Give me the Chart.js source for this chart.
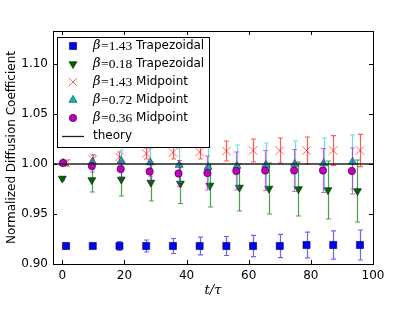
<!DOCTYPE html>
<html>
<head>
<meta charset="utf-8">
<script src="https://cdn.jsdelivr.net/npm/chart.js@4.4.0/dist/chart.umd.min.js"></script>
<style>
html, body { margin: 0; padding: 0; background: #fff; }
</style>
</head>
<body>
<canvas id="chart" width="415" height="312"></canvas>
<script>
// x positions (t/tau) of each series
var tTrap143 = [1.2, 9.8, 18.4, 27.0, 35.6, 44.2, 52.8, 61.4, 70.0, 78.6, 87.2, 95.8];
var tTrap018 = [0.0, 9.5, 19.0, 28.5, 38.0, 47.5, 57.0, 66.5, 76.0, 85.5, 95.0];
var tMid143 = [1.2, 9.8, 18.4, 27.0, 35.6, 44.2, 52.8, 61.4, 70.0, 78.6, 87.2, 95.8];
var tMid072 = [0.4, 9.7, 19.0, 28.3, 37.6, 46.9, 56.2, 65.5, 74.8, 84.1, 93.4];
var tMid036 = [0.2, 9.5, 18.8, 28.1, 37.4, 46.7, 56.0, 65.3, 74.6, 83.9, 93.2];

// normalized diffusion coefficient values
var dTrap143 = [0.918, 0.918, 0.918, 0.918, 0.918, 0.918, 0.918, 0.918, 0.918, 0.919, 0.919, 0.919];
var dTrap018 = [0.9855, 0.984, 0.9845, 0.9815, 0.9805, 0.9785, 0.9765, 0.9755, 0.975, 0.974, 0.973];
var dMid143 = [1.001, 1.0045, 1.007, 1.0105, 1.0115, 1.012, 1.013, 1.0135, 1.0135, 1.0135, 1.0135, 1.0135];
var dMid072 = [1.001, 1.002, 1.003, 1.0015, 0.999, 0.997, 0.998, 0.999, 1.0, 1.0005, 1.002];
var dMid036 = [1.001, 0.998, 0.995, 0.9925, 0.9905, 0.991, 0.993, 0.9935, 0.9935, 0.9935, 0.993];

// error bar half widths
var eTrap143 = [0.001, 0.002, 0.0045, 0.006, 0.0075, 0.0088, 0.0095, 0.0107, 0.0117, 0.0128, 0.0142, 0.015];
var eTrap018 = [0.002, 0.012, 0.0165, 0.0185, 0.020, 0.0215, 0.0235, 0.0255, 0.027, 0.029, 0.031];
var eMid143 = [0.003, 0.0045, 0.005, 0.0055, 0.0065, 0.007, 0.010, 0.0115, 0.0125, 0.0135, 0.0148, 0.0162];
var eMid072 = [0.002, 0.0075, 0.011, 0.014, 0.017, 0.020, 0.021, 0.022, 0.023, 0.0255, 0.027];
var eMid036 = [0.002, 0.006, 0.008, 0.010, 0.013, 0.017, 0.019, 0.020, 0.021, 0.022, 0.023];

var theoryValue = 1.0;
var xMin = -3, xMax = 100;
var yMin = 0.9, yMax = 1.133;
var xTicks = [0, 20, 40, 60, 80, 100];
var yTicks = [0.90, 0.95, 1.00, 1.05, 1.10];

function pts(xs, ys) {
	var out = [];
	for (var i = 0; i < xs.length; i++) out.push({x: xs[i], y: ys[i]});
	return out;
}

var series = [
	{beta: '1.43', name: 'Trapezoidal', x: tTrap143, y: dTrap143, err: eTrap143,
		style: 'rect', rot: 0, r: 5, fill: '#0000ff', edge: '#000033', bw: 0.6, errColor: 'rgba(0,0,255,0.6)', order: 5},
	{beta: '0.18', name: 'Trapezoidal', x: tTrap018, y: dTrap018, err: eTrap018,
		style: 'triangle', rot: 180, r: 4.6, fill: '#006400', edge: '#001a00', bw: 0.6, errColor: 'rgba(0,120,0,0.7)', order: 4},
	{beta: '1.43', name: 'Midpoint', x: tMid143, y: dMid143, err: eMid143,
		style: 'crossRot', rot: 0, r: 6, fill: 'rgba(255,0,0,0.6)', edge: 'rgba(255,0,0,0.6)', bw: 1, errColor: 'rgba(255,0,0,0.65)', order: 3},
	{beta: '0.72', name: 'Midpoint', x: tMid072, y: dMid072, err: eMid072,
		style: 'triangle', rot: 0, r: 4.6, fill: '#00bfbf', edge: '#003333', bw: 0.6, errColor: 'rgba(0,191,191,0.55)', order: 2},
	{beta: '0.36', name: 'Midpoint', x: tMid036, y: dMid036, err: eMid036,
		style: 'circle', rot: 0, r: 3.7, fill: '#bf00bf', edge: '#330033', bw: 0.6, errColor: 'rgba(191,0,191,0.6)', order: 1}
];

var datasets = series.map(function(s) {
	return {
		label: s.name,
		data: pts(s.x, s.y),
		err: s.err,
		errColor: s.errColor,
		pointStyle: s.style,
		rotation: s.rot,
		pointRadius: s.r,
		backgroundColor: s.fill,
		borderColor: s.edge,
		borderWidth: s.bw,
		showLine: false,
		order: s.order
	};
});
datasets.push({
	label: 'theory',
	data: [{x: xMin, y: theoryValue}, {x: xMax, y: theoryValue}],
	showLine: true,
	borderColor: '#222',
	borderWidth: 1.3,
	pointRadius: 0,
	order: 0
});

var errorBars = {
	id: 'errorBars',
	beforeDatasetDraw: function(chart, args) {
		var ds = chart.data.datasets[args.index];
		if (!ds.err) return;
		var xs = chart.scales.x, ys = chart.scales.y, ctx = chart.ctx, a = chart.chartArea;
		ctx.save();
		ctx.beginPath();
		ctx.rect(a.left, a.top, a.right - a.left, a.bottom - a.top);
		ctx.clip();
		ctx.strokeStyle = ds.errColor;
		ctx.lineWidth = 1.2;
		ds.data.forEach(function(p, i) {
			var px = Math.round(xs.getPixelForValue(p.x)) + 0.5;
			var lo = ys.getPixelForValue(p.y - ds.err[i]);
			var hi = ys.getPixelForValue(p.y + ds.err[i]);
			ctx.beginPath();
			ctx.moveTo(px, lo); ctx.lineTo(px, hi);
			ctx.moveTo(px - 2.5, lo); ctx.lineTo(px + 2.5, lo);
			ctx.moveTo(px - 2.5, hi); ctx.lineTo(px + 2.5, hi);
			ctx.stroke();
		});
		ctx.restore();
	}
};

var frame = {
	id: 'frame',
	afterDatasetsDraw: function(chart) {
		var ctx = chart.ctx, a = chart.chartArea;
		var xs = chart.scales.x, ys = chart.scales.y;
		ctx.save();
		ctx.strokeStyle = '#000';
		ctx.lineWidth = 1;
		ctx.strokeRect(Math.round(a.left) + 0.5, Math.round(a.top) + 0.5, Math.round(a.right - a.left), Math.round(a.bottom - a.top));
		ctx.beginPath();
		xTicks.forEach(function(v) {
			var px = Math.round(xs.getPixelForValue(v)) + 0.5;
			ctx.moveTo(px, a.bottom); ctx.lineTo(px, a.bottom - 4);
			ctx.moveTo(px, a.top); ctx.lineTo(px, a.top + 4);
		});
		yTicks.forEach(function(v) {
			var py = Math.round(ys.getPixelForValue(v)) + 0.5;
			ctx.moveTo(a.left, py); ctx.lineTo(a.left + 4, py);
			ctx.moveTo(a.right, py); ctx.lineTo(a.right - 4, py);
		});
		ctx.stroke();
		ctx.restore();
	}
};

var legendBox = {
	id: 'legendBox',
	afterDraw: function(chart) {
		var ctx = chart.ctx;
		var bx = 57, by = 37, bw = 152, bh = 110;
		ctx.save();
		ctx.fillStyle = '#fff';
		ctx.fillRect(bx, by, bw, bh);
		ctx.strokeStyle = '#000';
		ctx.lineWidth = 1;
		ctx.strokeRect(bx + 0.5, by + 0.5, bw, bh);
		ctx.textBaseline = 'middle';
		var mx = 73, tx = 93, y0 = 46, step = 18;
		series.forEach(function(s, i) {
			var y = y0 + i * step;
			ctx.fillStyle = s.fill;
			ctx.strokeStyle = s.edge;
			ctx.lineWidth = s.bw;
			Chart.helpers.drawPoint(ctx, {pointStyle: s.style, rotation: s.rot, radius: s.r, borderWidth: s.bw}, mx, y);
			ctx.fillStyle = '#000';
			var x = tx;
			ctx.font = 'italic 13px "DejaVu Serif"';
			ctx.fillText('\u03b2', x, y);
			x += ctx.measureText('\u03b2').width + 0.5;
			ctx.font = '13.5px "Liberation Serif"';
			ctx.fillText('=' + s.beta, x, y);
			x += ctx.measureText('=' + s.beta).width;
			ctx.font = '12px "DejaVu Sans"';
			ctx.fillText(' ' + s.name, x, y);
		});
		var ly = y0 + 5 * step;
		ctx.strokeStyle = '#222';
		ctx.lineWidth = 1.3;
		ctx.beginPath();
		ctx.moveTo(62, ly + 0.5); ctx.lineTo(84, ly + 0.5);
		ctx.stroke();
		ctx.fillStyle = '#000';
		ctx.font = '12px "DejaVu Sans"';
		ctx.fillText('theory', tx, ly);
		ctx.restore();
	}
};

new Chart(document.getElementById('chart'), {
	type: 'scatter',
	data: {datasets: datasets},
	options: {
		responsive: false,
		devicePixelRatio: 1,
		animation: false,
		events: [],
		layout: {padding: {top: 31, right: 42, left: 0, bottom: 0}},
		plugins: {legend: {display: false}, tooltip: {enabled: false}},
		scales: {
			x: {
				type: 'linear',
				min: xMin, max: xMax,
				afterBuildTicks: function(scale) { scale.ticks = xTicks.map(function(v) { return {value: v}; }); },
				afterFit: function(scale) { scale.height = 48; },
				grid: {display: false, drawTicks: false},
				border: {display: false},
				ticks: {color: '#000', padding: 5, maxRotation: 0, font: {family: 'DejaVu Sans', size: 12}},
				title: {display: true, text: 't/\u03c4', color: '#000', padding: {top: 0, bottom: 14},
					font: {family: 'DejaVu Serif', size: 13, style: 'italic'}}
			},
			y: {
				type: 'linear',
				min: yMin, max: yMax,
				afterBuildTicks: function(scale) { scale.ticks = yTicks.map(function(v) { return {value: v}; }); },
				afterFit: function(scale) { scale.width = 53; },
				grid: {display: false, drawTicks: false},
				border: {display: false},
				ticks: {color: '#000', padding: 5, font: {family: 'DejaVu Sans', size: 12},
					callback: function(v) { return v.toFixed(2); }},
				title: {display: true, text: 'Normalized Diffusion Coefficient', color: '#000', padding: {top: 5, bottom: 0},
					font: {family: 'DejaVu Sans', size: 12}}
			}
		}
	},
	plugins: [errorBars, frame, legendBox]
});
</script>
</body>
</html>
